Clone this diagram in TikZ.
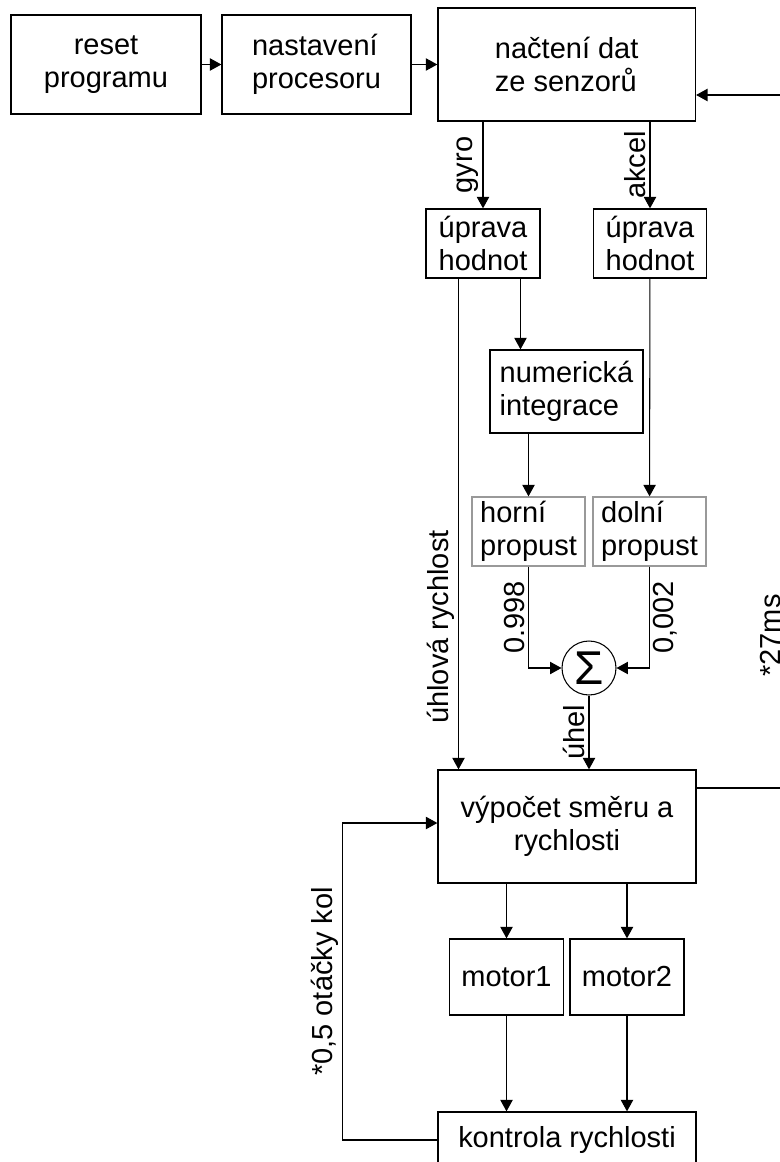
\documentclass[tikz,border=0pt]{standalone}
\usepackage{fontspec}
\setmainfont{Liberation Sans}
\usetikzlibrary{positioning, arrows.meta}
\newcommand{\txt}{\fontsize{16.5}{19}\selectfont}
\tikzset{
    box/.style={draw, line width=0.75pt, inner sep=0pt, font=\txt, align=left},
    pale/.style={box, draw=black!40},
    lbl/.style={rotate=90, anchor=south, inner sep=2pt, font=\txt},
    lblr/.style={rotate=90, anchor=north, inner sep=2pt, font=\txt}
}

\begin{document}
\begin{tikzpicture}[x=0.02cm, y=-0.02cm, line width=0.6pt,
    >={Triangle[length=6.5pt, width=7pt]}]
    \useasboundingbox (0,0) rectangle (779,1162);
    \node[box, align=center, minimum width=3.8cm, minimum height=1.98cm] (0) at (106,64.5) {reset\\programu};
    \node[box, minimum width=3.78cm, minimum height=1.98cm] (1) at (316.5,64.5) {nastavení\\procesoru};
    \node[box, minimum width=5.15cm, minimum height=2.26cm] (2) at (566.7,64.5) {načtení dat\\ze senzorů};
    \node[box, minimum width=2.28cm, minimum height=1.38cm] (3) at (483,243.5) {úprava\\hodnot};
    \node[box, minimum width=2.26cm, minimum height=1.38cm] (4) at (650,243.5) {úprava\\hodnot};
    \node[box, minimum width=3.06cm, minimum height=1.66cm] (5) at (566.5,391.5) {numerická\\integrace};
    \node[pale, minimum width=2.26cm, minimum height=1.38cm] (6) at (528.5,531.5) {horní\\propust};
    \node[pale, minimum width=2.26cm, minimum height=1.38cm] (7) at (649.5,531.5) {dolní\\propust};
    \node[draw, circle, inner sep=0pt, minimum size=1.08cm, font=\fontsize{27}{27}\selectfont] (8) at (589,668) {Σ};
    \node[box, align=center, minimum width=5.16cm, minimum height=2.26cm] (9) at (567,826.5) {výpočet směru a\\rychlosti};
    \node[box, minimum width=2.27cm, minimum height=1.52cm] (10) at (506.5,977) {motor1};
    \node[box, minimum width=2.28cm, minimum height=1.52cm] (11) at (627,977) {motor2};
    \node[box, minimum width=5.16cm, minimum height=1.12cm] (12) at (567,1140) {kontrola rychlosti};
    \coordinate (g1) at ([xshift=-0.49cm]3.south);
    \coordinate (g2) at ([xshift=0.75cm]3.south);

    \path[->] (0) edge (1);
    \path[->] (1) edge (2);
    \draw[->] (3 |- 2.south) -- node[lbl] {gyro} (3);
    \draw[->] (4 |- 2.south) -- node[lbl] {akcel} (4);
    \draw[->] (g1) -- node[lbl, pos=0.71] {úhlová rychlost} (g1 |- 9.north);
    \draw[->] (g2) -- (g2 |- 5.north);
    \draw[->] (6 |- 5.south) -- (6);
    \path[->] (4) edge (7);
    \draw[->] (6.south) |- node[lbl, pos=0.25] {0.998} (8.west);
    \draw[->] (7.south) |- node[lblr, pos=0.25] {0,002} (8.east);
    \draw[->] (8.south) -- node[lbl] {úhel} (8 |- 9.north);
    \draw[->] (10 |- 9.south) -- (10);
    \draw[->] (11 |- 9.south) -- (11);
    \draw[->] (10) -- (10 |- 12.north);
    \draw[->] (11) -- (11 |- 12.north);
    \draw[->] (12.west) -- ++(-95,0)
        |- node[lbl, pos=0.25] {*0,5 otáčky kol} ([yshift=0.07cm]9.west);
    \draw[->] ([yshift=0.77cm]9.east) -- ++(88,0)
        |- node[lbl, pos=0.11] {*27ms} ([yshift=-0.61cm]2.east);
\end{tikzpicture}
\end{document}
